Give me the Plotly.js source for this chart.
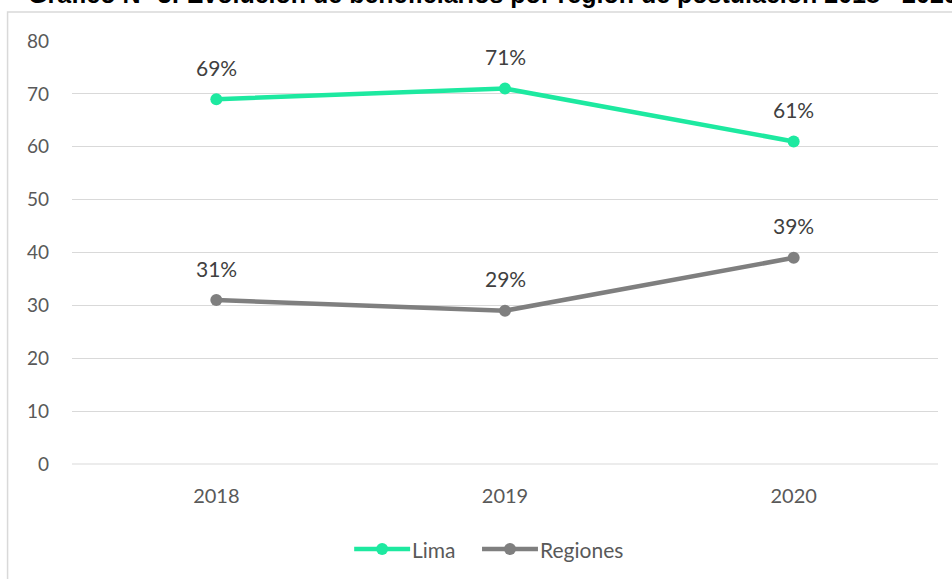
<!DOCTYPE html>
<html>
<head>
<meta charset="utf-8">
<script src="https://cdn.plot.ly/plotly-3.0.1.min.js"></script>
<style>html,body{margin:0;padding:0;background:#fff;}#chart{width:952px;height:579px;}</style>
</head>
<body>
<div id="chart"></div>
<script>
var years = ['2018', '2019', '2020'];
var lima = [69, 71, 61];
var regiones = [31, 29, 39];
var seriesNames = ['Lima', 'Regiones'];
var seriesColors = ['#1DE9A0', '#7F7F7F'];
var yTicks = [0, 10, 20, 30, 40, 50, 60, 70, 80];
var titleText = 'Gráfico N° 3: Evolución de beneficiarios por región de postulación 2018 - 2020';

var W = 952, H = 579, L = 71.5, R = 13.5, T = 41, B = 115;
var pw = W - L - R, ph = H - T - B;
function px(x) { return (x - L) / pw; }
function py(y) { return 1 + (T - y) / ph; }

var seriesData = [lima, regiones];
var traces = seriesData.map(function (s, k) {
  return { x: years, y: s, name: seriesNames[k], type: 'scatter', mode: 'lines+markers',
    line: { color: seriesColors[k], width: 4.5 }, marker: { color: seriesColors[k], size: 12 } };
});

var annotations = [];
seriesData.forEach(function (s) {
  s.forEach(function (v, i) {
    annotations.push({ xref: 'x', yref: 'y', x: i, y: v, text: v + '%', showarrow: false,
      yshift: 32, font: { family: 'Lato, sans-serif', size: 21, color: '#404040' } });
  });
});
annotations.push({ xref: 'paper', yref: 'paper', x: px(26), y: py(9), xanchor: 'left', yanchor: 'bottom',
  text: '<b>' + titleText + '</b>', showarrow: false, borderpad: 0,
  font: { family: 'Liberation Sans, Arial, sans-serif', size: 25, color: '#000' } });

var shapes = [
  { type: 'line', xref: 'paper', yref: 'paper', x0: 0, x1: 1, y0: 0, y1: 0, line: { color: '#D9D9D9', width: 1 } },
  { type: 'rect', xref: 'paper', yref: 'paper', x0: px(7), x1: px(960), y0: py(12), y1: py(590),
    line: { color: '#D9D9D9', width: 1.5 }, layer: 'below' }
];

// custom legend (matches the reference's long legend keys)
var legStarts = [354, 482];
var legY = 549;
seriesNames.forEach(function (n, k) {
  var x0 = legStarts[k];
  shapes.push({ type: 'line', xref: 'paper', yref: 'paper', x0: px(x0), x1: px(x0 + 56), y0: py(legY), y1: py(legY),
    line: { color: seriesColors[k], width: 4.5 } });
  shapes.push({ type: 'circle', xref: 'paper', yref: 'paper', x0: px(x0 + 22), x1: px(x0 + 34),
    y0: py(legY - 6), y1: py(legY + 6), fillcolor: seriesColors[k], line: { width: 0 } });
  annotations.push({ xref: 'paper', yref: 'paper', x: px(x0 + 57), y: py(legY), xanchor: 'left', yanchor: 'middle',
    text: n, showarrow: false, borderpad: 0, font: { family: 'Lato, sans-serif', size: 21, color: '#595959' } });
});

var layout = {
  width: W, height: H,
  margin: { l: L, r: R, t: T, b: B, pad: 0 },
  paper_bgcolor: '#fff', plot_bgcolor: '#fff',
  showlegend: false,
  xaxis: { type: 'category', range: [-0.5, 2.5], showgrid: false, zeroline: false, showline: false,
    ticks: '', tickfont: { family: 'Lato, sans-serif', size: 20, color: '#595959' }, ticklabelstandoff: 18 },
  yaxis: { range: [0, 80], tickvals: yTicks, showgrid: true, gridcolor: '#D9D9D9', gridwidth: 1,
    zeroline: false, showline: false, ticks: '', ticklabelstandoff: 22,
    tickfont: { family: 'Lato, sans-serif', size: 19, color: '#595959' } },
  annotations: annotations,
  shapes: shapes
};
Plotly.newPlot('chart', traces, layout, { displayModeBar: false, staticPlot: true });
</script>
</body>
</html>
